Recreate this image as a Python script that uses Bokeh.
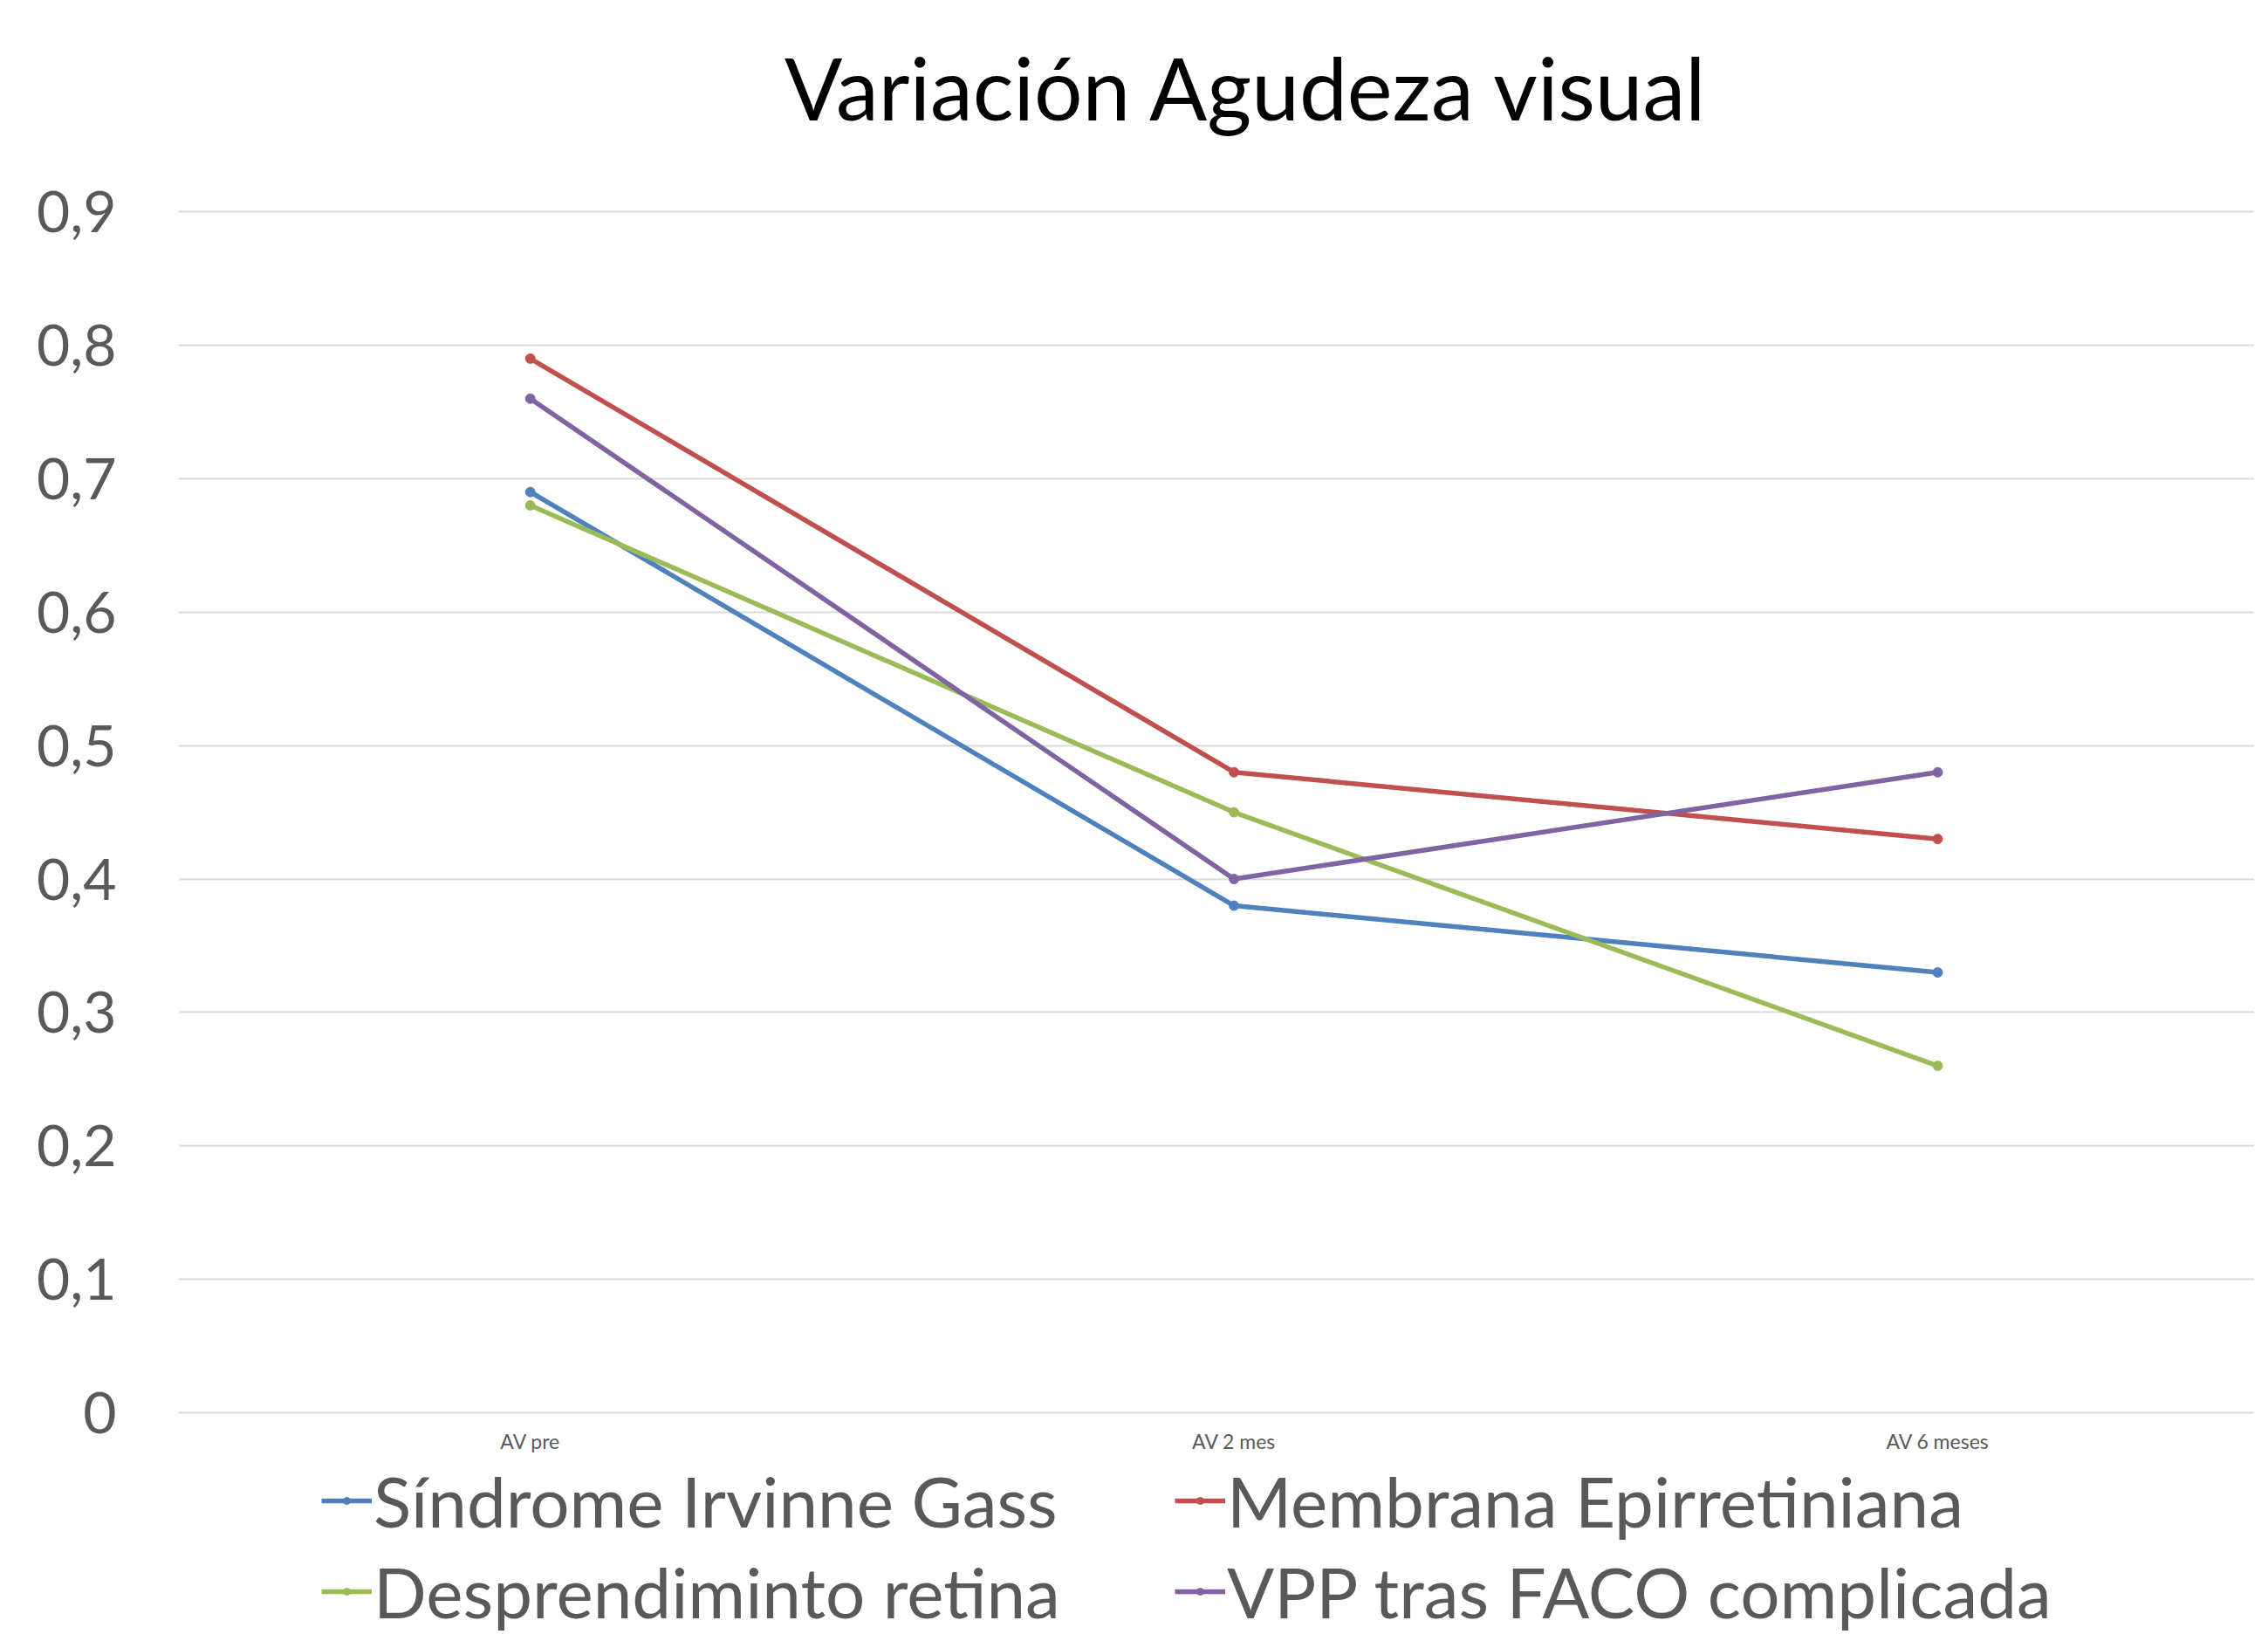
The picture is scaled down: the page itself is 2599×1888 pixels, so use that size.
from bokeh.plotting import figure
from bokeh.models import Range1d, FixedTicker, Legend, LegendItem, Label
from bokeh.core.properties import value
from bokeh.embed import file_html
from bokeh.resources import INLINE

# ---------------- data ----------------
categories = ["AV pre", "AV 2 mes", "AV 6 meses"]
series_names = ["Síndrome Irvinne Gass", "Membrana Epirretiniana",
                "Desprendiminto retina", "VPP tras FACO complicada"]
sindrome_irvinne_gass = [0.69, 0.38, 0.33]
membrana_epirretiniana = [0.79, 0.48, 0.43]
desprendiminto_retina = [0.68, 0.45, 0.26]
vpp_tras_faco = [0.76, 0.40, 0.48]
y_ticks = [0, 0.1, 0.2, 0.3, 0.4, 0.5, 0.6, 0.7, 0.8, 0.9]
y_tick_labels = ["0", "0,1", "0,2", "0,3", "0,4", "0,5", "0,6", "0,7", "0,8", "0,9"]
title_text = "Variación Agudeza visual"

# ---------------- style / layout ----------------
FONT = "Lato"
colors = ["#4F81BD", "#C0504D", "#9BBB59", "#8064A2"]
text_grey = "#595959"
grid_grey = "#D9D9D9"

W, H = 2583, 1872
LEFT = 204            # frame left edge (px)
ZERO_Y = 1618         # pixel row of value 0
px_per_cat = 806.4
px_per_unit = 1528.7
frame_w = W - LEFT

x_idx = list(range(len(categories)))

p = figure(width=W, height=H, output_backend="svg", toolbar_location=None,
           x_range=Range1d(-0.5, -0.5 + frame_w / px_per_cat),
           y_range=Range1d(-(H - ZERO_Y) / px_per_unit, ZERO_Y / px_per_unit),
           min_border_left=LEFT, min_border_right=0, min_border_top=0,
           min_border_bottom=0)
p.outline_line_color = None
p.background_fill_color = "white"
p.border_fill_color = "white"

# y axis
p.yaxis.ticker = FixedTicker(ticks=y_ticks)
p.yaxis.major_label_overrides = {t: l for t, l in zip(y_ticks, y_tick_labels)}
p.yaxis.major_label_text_font = FONT
p.yaxis.major_label_text_font_size = "66px"
p.yaxis.major_label_text_color = text_grey
p.yaxis.major_label_standoff = 71
p.yaxis.major_tick_line_color = None
p.yaxis.minor_tick_line_color = None
p.yaxis.major_tick_out = 0
p.yaxis.axis_line_color = None

# category axis: labels under the zero line
p.xaxis.visible = False
p.xgrid.grid_line_color = None
p.ygrid.ticker = FixedTicker(ticks=y_ticks)
p.ygrid.grid_line_color = grid_grey
p.ygrid.grid_line_width = 2

cat_label_y = -32 / px_per_unit
p.text(x=x_idx, y=[cat_label_y] * len(categories), text=categories,
       text_font=value(FONT), text_font_size="23px", text_color=text_grey,
       text_align="center", text_baseline="middle")

# series
all_series = [sindrome_irvinne_gass, membrana_epirretiniana,
              desprendiminto_retina, vpp_tras_faco]
items = []
for name, vals, col in zip(series_names, all_series, colors):
    lr = p.line(x_idx, vals, line_color=col, line_width=5.5)
    sr = p.scatter(x_idx, vals, size=11, fill_color=col, line_color=col)
    items.append(LegendItem(label=name, renderers=[lr, sr]))

legend = Legend(items=items, ncols=2, orientation="horizontal",
                location=(164, 1),
                label_text_font=FONT, label_text_font_size="80px",
                label_text_color=text_grey, label_standoff=2,
                glyph_width=58, glyph_height=20, label_height=20,
                label_width=910, spacing=8, padding=0, margin=0,
                border_line_color=None, background_fill_alpha=0)
p.add_layout(legend, "center")

# title
title = Label(x=1.019, y=(ZERO_Y - 99) / px_per_unit, text=title_text,
              text_font=FONT, text_font_size="98px", text_color="black",
              text_align="center", text_baseline="middle")
p.add_layout(title)

open("out.html", "w").write(file_html(p, INLINE))
